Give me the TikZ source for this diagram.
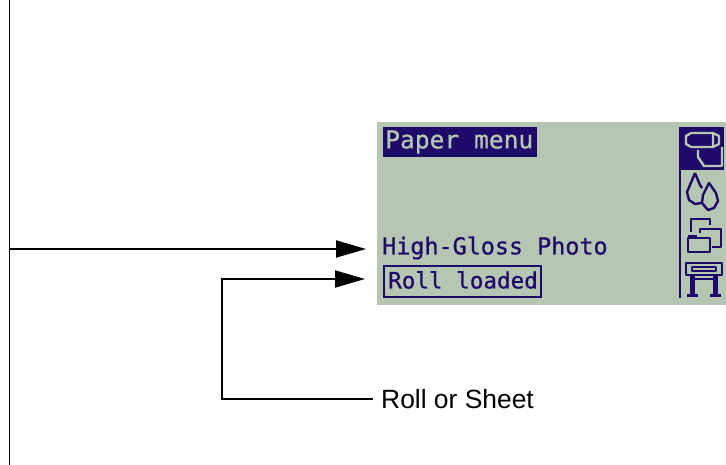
\documentclass[tikz,border=0pt]{standalone}
\usepackage{fontspec}
\setmainfont{Liberation Sans}
\newfontfamily\lcdfont[FakeBold=0.6]{DejaVu Sans Mono}
\usetikzlibrary{arrows.meta}
\definecolor{lcdgreen}{HTML}{B5C7B2}
\definecolor{lcdink}{HTML}{1E0A68}
\tikzset{
    lead/.style={line width=1.9pt, black},
    tip/.style={-{Triangle[length=30pt,width=17pt]}},
    lcdtext/.style={anchor=west, inner sep=0pt, text=lcdink, font=\lcdfont\fontsize{23.4}{25}\selectfont},
    icon/.style={draw=lcdink, line width=2.4pt, line join=round},
}
\begin{document}
\begin{tikzpicture}[x=1pt,y=-1pt]
    \useasboundingbox (0,0) rectangle (726,465);
    
    \fill[lcdgreen] (377,122) rectangle (726,305);
    
    \fill[lcdink] (383,127) rectangle (537,157);
    \node[lcdtext, text=lcdgreen, font=\lcdfont\fontsize{24.6}{26}\selectfont] (M) at (385,142) {Paper menu};
    \node[lcdtext] (P) at (382,248) {High-Gloss Photo};
    \node[lcdtext, font=\lcdfont\fontsize{22.6}{25}\selectfont] (R) at (388,280) {Roll loaded};
    \draw[lcdink, line width=2.2pt] (384,266) rectangle (541,297);
    
    % icon column
    \draw[lcdink, line width=2.6pt] (680,127) -- (680,298);
    \fill[lcdink] (680,127) rectangle (724,170);
    \draw[icon, draw=lcdgreen] (691,133) -- (713,133) (691,147) -- (713,147) (691,133) -- (686,136) -- (686,144) -- (691,147);
    \draw[icon, draw=lcdgreen] (713,133) -- (719,136) -- (719,144) -- (713,147) -- cycle;
    \draw[icon, draw=lcdgreen] (698,150) -- (698,157) -- (704,166) -- (722,166) -- (722,147);
    % ink drops
    \draw[icon] (695,173) -- (690,185) -- (687,192) -- (689,200) -- (695,204) -- (701,203);
    \draw[icon] (695,173) -- (700,185) -- (702,188);
    \draw[icon] (709,183) -- (703,195) -- (702,203) -- (708,210) -- (714,208) -- (718,201) -- (716,193) -- cycle;
    % folders
    \draw[icon] (691,232) -- (691,219) -- (710,219) -- (710,225);
    \draw[icon] (700,233) -- (700,229) -- (721,229) -- (721,247) -- (712,247);
    \draw[icon] (688,238) rectangle (710,252);
    \fill[lcdink] (688,235) rectangle (697,239);
    % plotter
    \draw[icon] (686,263) rectangle (722,275);
    \draw[icon] (692,267) rectangle (716,271);
    \draw[icon] (695,279) -- (713,279);
    \draw[icon, line width=4.5pt] (692.5,275) -- (692.5,295) (715.5,275) -- (715.5,295);
    \draw[icon, line width=3pt] (687,295.5) -- (698,295.5) (710,295.5) -- (721,295.5);
    
    \coordinate (T) at (9.5,0);
    \coordinate (B) at (9.5,465);
    \coordinate (J) at (9.5,249);
    \coordinate (H) at (366,249);
    \coordinate (K) at (365,279);
    \node[anchor=west, inner sep=0pt, font=\fontsize{26.4}{30}\selectfont] (S) at (381,399) {Roll or Sheet};
    
    \draw[lead] (T) -- (B);
    \draw[lead, tip] (J) -- (H);
    \draw[lead, tip] ([xshift=-8pt]S.west) -| (222,279) -- (K);
\end{tikzpicture}
\end{document}
